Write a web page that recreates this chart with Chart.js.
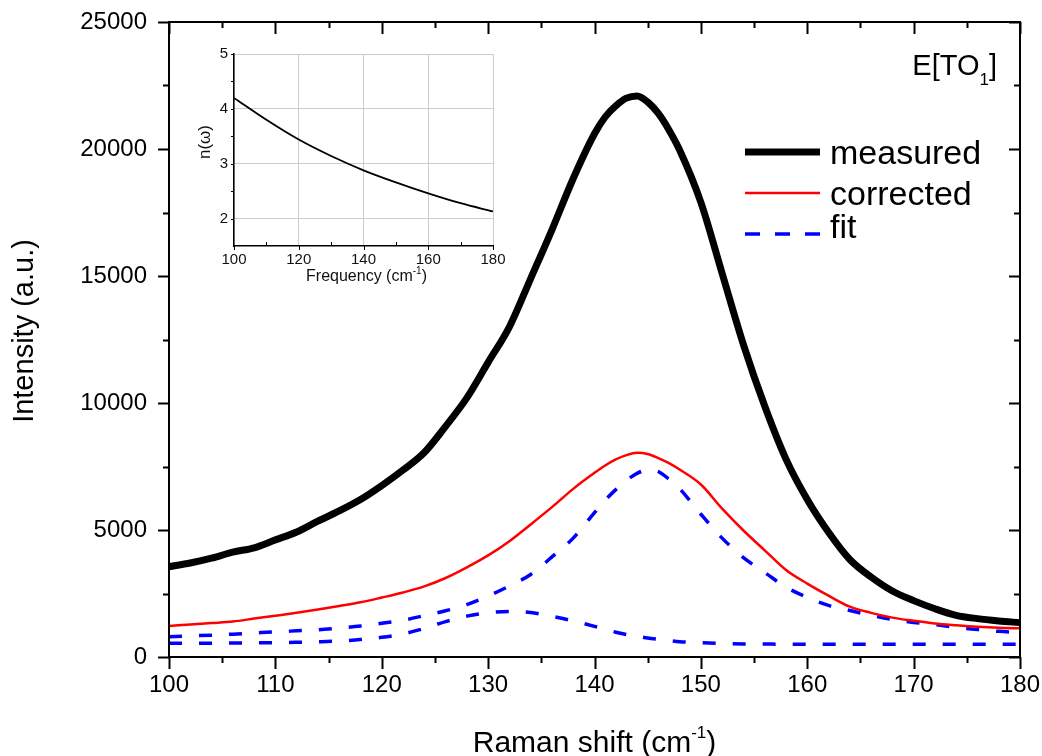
<!DOCTYPE html>
<html>
<head>
<meta charset="utf-8">
<title>E[TO1] Raman spectrum</title>
<script src="https://cdn.jsdelivr.net/npm/chart.js@4.4.0/dist/chart.umd.min.js"></script>
<style>
    body { margin: 0; background: #fff; }
    #wrap { position: relative; width: 1042px; height: 756px; }
    #insetChart { position: absolute; left: 170px; top: 36px; }
</style>
</head>
<body>
<div id="wrap">
    <canvas id="mainChart" width="1042" height="756"></canvas>
    <canvas id="insetChart" width="345" height="252"></canvas>
</div>
<script>
// Raman shift (cm-1) sampling shared by all main series
const ramanShift = [100, 102, 104, 106, 108, 110, 112, 114, 116, 118, 120, 122, 124, 126, 128, 130, 132, 134, 136, 138, 140,
    141, 142, 143, 144, 145, 146, 147, 148,
    150, 152, 154, 156, 158, 160, 162, 164, 166, 168, 170, 172, 174, 176, 178, 180];

const measured = [3555, 3700, 3890, 4130, 4300, 4610, 4920, 5350, 5750, 6200, 6750, 7360, 8050, 9080, 10200, 11600, 13000, 14900, 16820, 18840, 20600,
    21260, 21700, 22000, 22090, 21850, 21400, 20750, 19960,
    17900, 15100, 12300, 9880, 7790, 6200, 4910, 3840, 3150, 2600, 2220, 1900, 1640, 1510, 1420, 1350];

const corrected = [1220, 1278, 1336, 1398, 1512, 1625, 1740, 1870, 2008, 2152, 2340, 2540, 2780, 3110, 3530, 4000, 4560, 5220, 5900, 6620, 7250,
    7540, 7780, 7950, 8040, 7990, 7830, 7630, 7380,
    6790, 5840, 4980, 4200, 3425, 2890, 2415, 1980, 1737, 1550, 1425, 1320, 1250, 1190, 1150, 1130];

const fitTotal = [800, 830, 860, 900, 945, 990, 1030, 1070, 1140, 1220, 1330, 1450, 1630, 1820, 2060, 2400, 2800, 3250, 3940, 4680, 5685,
    6170, 6590, 6945, 7230, 7360, 7300, 7000, 6630,
    5620, 4680, 3910, 3330, 2750, 2350, 2030, 1830, 1640, 1475, 1360, 1280, 1165, 1085, 1010, 957];

const fitLowPeak = [540, 540, 545, 550, 560, 565, 580, 600, 630, 690, 775, 910, 1126, 1393, 1610, 1741, 1790, 1750, 1604, 1421, 1207,
    1091, 975, 888, 818, 748, 697, 650, 603,
    560, 530, 515, 510, 505, 505, 505, 505, 505, 505, 505, 505, 505, 505, 505, 505];

// Axis ticks (main)
const xTicks = [100, 110, 120, 130, 140, 150, 160, 170, 180];
const yTicks = [0, 5000, 10000, 15000, 20000, 25000];
const xMinorStep = 5;
const yMinorStep = 2500;

// Inset: refractive index n(omega)
const insetFreq = [100, 110, 120, 130, 140, 150, 160, 170, 180];
const insetIndex = [4.20, 3.80, 3.44, 3.14, 2.88, 2.66, 2.46, 2.28, 2.13];
const insetXTicks = [100, 120, 140, 160, 180];
const insetYTicks = [2, 3, 4, 5];

const FONT = "'Liberation Sans', Arial, 'DejaVu Sans', sans-serif";

document.addEventListener('DOMContentLoaded', function() {
    Chart.defaults.font.family = FONT;
    Chart.defaults.color = '#000';
    initializeMainChart();
    initializeInsetChart();
});

function toPoints(xs, ys) {
    return xs.map((x, i) => ({ x: x, y: ys[i] }));
}

// Draws "text(cm-1)" style labels with a real superscript, centred on cx
function drawSupLabel(ctx, head, sup, tail, cx, baseline, size, supSize, rise) {
    const big = size + 'px ' + FONT;
    const small = supSize + 'px ' + FONT;
    ctx.font = big;
    const w1 = ctx.measureText(head).width;
    const w3 = ctx.measureText(tail).width;
    ctx.font = small;
    const w2 = ctx.measureText(sup).width;
    let x = cx - (w1 + w2 + w3) / 2;
    ctx.textAlign = 'left';
    ctx.textBaseline = 'alphabetic';
    ctx.font = big;
    ctx.fillText(head, x, baseline);
    x += w1;
    ctx.font = small;
    ctx.fillText(sup, x, baseline - rise);
    x += w2;
    ctx.font = big;
    ctx.fillText(tail, x, baseline);
}

// Frame with inward ticks on top/right and outward ticks on bottom/left
const frameTicks = {
    id: 'frameTicks',
    afterDraw(chart) {
        const { ctx, chartArea: a, scales: { x, y } } = chart;
        ctx.save();
        ctx.strokeStyle = '#000';
        ctx.lineWidth = 2;
        ctx.strokeRect(a.left, a.top, a.right - a.left, a.bottom - a.top);
        ctx.beginPath();
        for (let v = x.min; v <= x.max; v += xMinorStep) {
            const px = Math.round(x.getPixelForValue(v)) + 0.5;
            const major = xTicks.includes(v);
            ctx.moveTo(px, a.bottom);
            ctx.lineTo(px, a.bottom + (major ? 12 : 6));
            ctx.moveTo(px, a.top);
            ctx.lineTo(px, a.top + (major ? 12 : 6));
        }
        for (let v = y.min; v <= y.max; v += yMinorStep) {
            const py = Math.round(y.getPixelForValue(v)) + 0.5;
            const major = yTicks.includes(v);
            ctx.moveTo(a.left, py);
            ctx.lineTo(a.left - (major ? 11 : 6), py);
            ctx.moveTo(a.right, py);
            ctx.lineTo(a.right - (major ? 11 : 6), py);
        }
        ctx.stroke();
        ctx.restore();
    }
};

// Axis titles, legend block and the mode label
const annotations = {
    id: 'annotations',
    afterDraw(chart) {
        const { ctx, chartArea: a } = chart;
        ctx.save();
        ctx.fillStyle = '#000';

        // axis titles
        drawSupLabel(ctx, 'Raman shift (cm', '-1', ')', (a.left + a.right) / 2, 752, 30, 17, 14);
        ctx.save();
        ctx.translate(33, 331);
        ctx.rotate(-Math.PI / 2);
        ctx.font = '29px ' + FONT;
        ctx.textAlign = 'center';
        ctx.textBaseline = 'alphabetic';
        ctx.fillText('Intensity (a.u.)', 0, 0);
        ctx.restore();

        // legend
        const x0 = a.right - 275;
        const rows = [
            { line: 152, base: 164 },
            { line: 193, base: 205 },
            { line: 234, base: 238 }
        ];
        chart.data.datasets.slice(0, 3).forEach((ds, i) => {
            ctx.beginPath();
            ctx.strokeStyle = ds.borderColor;
            ctx.lineWidth = ds.borderWidth;
            ctx.setLineDash(i === 2 ? [15, 15] : []);
            ctx.moveTo(x0, rows[i].line);
            ctx.lineTo(x0 + 75, rows[i].line);
            ctx.stroke();
            ctx.setLineDash([]);
            ctx.font = '34px ' + FONT;
            ctx.textBaseline = 'alphabetic';
            ctx.textAlign = 'left';
            ctx.fillText(ds.label, x0 + 85, rows[i].base);
        });

        // E[TO1] with subscript
        const big = '29px ' + FONT;
        const small = '17px ' + FONT;
        ctx.font = big;
        const w1 = ctx.measureText('E[TO').width;
        const w3 = ctx.measureText(']').width;
        ctx.font = small;
        const w2 = ctx.measureText('1').width;
        let tx = a.right - 23 - (w1 + w2 + w3);
        ctx.font = big;
        ctx.fillText('E[TO', tx, 75);
        tx += w1;
        ctx.font = small;
        ctx.fillText('1', tx, 85);
        tx += w2;
        ctx.font = big;
        ctx.fillText(']', tx, 75);
        ctx.restore();
    }
};

function initializeMainChart() {
    const ctx = document.getElementById('mainChart');
    if (!ctx) return;

    new Chart(ctx, {
        type: 'line',
        data: {
            datasets: [
                {
                    label: 'measured',
                    data: toPoints(ramanShift, measured),
                    borderColor: '#000000',
                    borderWidth: 7
                },
                {
                    label: 'corrected',
                    data: toPoints(ramanShift, corrected),
                    borderColor: '#ff0000',
                    borderWidth: 2.5
                },
                {
                    label: 'fit',
                    data: toPoints(ramanShift, fitTotal),
                    borderColor: '#0000ff',
                    borderWidth: 3.5,
                    borderDash: [13, 17]
                },
                {
                    label: 'fit component',
                    data: toPoints(ramanShift, fitLowPeak),
                    borderColor: '#0000ff',
                    borderWidth: 3.5,
                    borderDash: [13, 17]
                }
            ]
        },
        options: {
            responsive: false,
            animation: false,
            devicePixelRatio: 1,
            layout: { padding: { top: 22, right: 22, left: 0, bottom: 0 } },
            elements: {
                point: { radius: 0 },
                line: { cubicInterpolationMode: 'monotone', fill: false }
            },
            plugins: {
                legend: { display: false },
                tooltip: { enabled: false }
            },
            scales: {
                x: {
                    type: 'linear',
                    min: 100,
                    max: 180,
                    afterBuildTicks: scale => { scale.ticks = xTicks.map(v => ({ value: v })); },
                    afterFit: scale => {
                        scale.height = 99;
                        scale.paddingLeft = 0;
                        scale.paddingRight = 0;
                    },
                    grid: { display: false, drawTicks: false },
                    border: { display: false },
                    ticks: {
                        padding: 14,
                        maxRotation: 0,
                        autoSkip: false,
                        color: '#000',
                        font: { size: 24 },
                        callback: value => String(value)
                    }
                },
                y: {
                    type: 'linear',
                    min: 0,
                    max: 25000,
                    afterBuildTicks: scale => { scale.ticks = yTicks.map(v => ({ value: v })); },
                    afterFit: scale => {
                        scale.width = 169;
                        scale.paddingTop = 0;
                        scale.paddingBottom = 0;
                    },
                    grid: { display: false, drawTicks: false },
                    border: { display: false },
                    ticks: {
                        padding: 22,
                        color: '#000',
                        font: { size: 24 },
                        callback: value => String(value)
                    }
                }
            }
        },
        plugins: [frameTicks, annotations]
    });
}

// Small ticks and titles for the inset axes
const insetDecor = {
    id: 'insetDecor',
    afterDraw(chart) {
        const { ctx, chartArea: a, scales: { x, y } } = chart;
        ctx.save();
        ctx.strokeStyle = '#000';
        ctx.lineWidth = 1;
        ctx.beginPath();
        for (let v = 100; v <= 180; v += 10) {
            const px = Math.round(x.getPixelForValue(v)) + 0.5;
            if (insetXTicks.includes(v)) {
                ctx.moveTo(px, a.bottom);
                ctx.lineTo(px, a.bottom + 4);
            } else {
                ctx.moveTo(px, a.bottom);
                ctx.lineTo(px, a.bottom - 4);
            }
        }
        for (let v = 2; v <= 5; v += 0.5) {
            const py = Math.round(y.getPixelForValue(v)) + 0.5;
            ctx.moveTo(a.left, py);
            ctx.lineTo(a.left - 3, py);
        }
        ctx.stroke();

        ctx.fillStyle = '#111';
        drawSupLabel(ctx, 'Frequency (cm', '-1', ')', (a.left + a.right) / 2 + 3, 245, 16, 10, 7);
        ctx.translate(40, 106);
        ctx.rotate(-Math.PI / 2);
        ctx.font = '17px ' + FONT;
        ctx.textAlign = 'center';
        ctx.textBaseline = 'alphabetic';
        ctx.fillText('n(\u03C9)', 0, 0);
        ctx.restore();
    }
};

function initializeInsetChart() {
    const ctx = document.getElementById('insetChart');
    if (!ctx) return;

    new Chart(ctx, {
        type: 'line',
        data: {
            datasets: [{
                label: 'n',
                data: toPoints(insetFreq, insetIndex),
                borderColor: '#000',
                borderWidth: 1.8
            }]
        },
        options: {
            responsive: false,
            animation: false,
            devicePixelRatio: 1,
            layout: { padding: { top: 18, right: 22, left: 0, bottom: 0 } },
            elements: {
                point: { radius: 0 },
                line: { cubicInterpolationMode: 'monotone', fill: false }
            },
            plugins: {
                legend: { display: false },
                tooltip: { enabled: false }
            },
            scales: {
                x: {
                    type: 'linear',
                    min: 100,
                    max: 180,
                    afterBuildTicks: scale => { scale.ticks = insetXTicks.map(v => ({ value: v })); },
                    afterFit: scale => {
                        scale.height = 42;
                        scale.paddingLeft = 0;
                        scale.paddingRight = 0;
                    },
                    grid: { color: '#cccccc', lineWidth: 1, drawTicks: false },
                    border: { display: true, color: '#000', width: 1.5 },
                    ticks: {
                        padding: 5,
                        maxRotation: 0,
                        autoSkip: false,
                        color: '#111',
                        font: { size: 15 }
                    }
                },
                y: {
                    type: 'linear',
                    min: 1.5,
                    max: 5,
                    afterBuildTicks: scale => { scale.ticks = insetYTicks.map(v => ({ value: v })); },
                    afterFit: scale => {
                        scale.width = 64;
                        scale.paddingTop = 0;
                        scale.paddingBottom = 0;
                    },
                    grid: { color: '#cccccc', lineWidth: 1, drawTicks: false },
                    border: { display: true, color: '#000', width: 1.5 },
                    ticks: {
                        padding: 6,
                        color: '#111',
                        font: { size: 15 }
                    }
                }
            }
        },
        plugins: [insetDecor]
    });
}
</script>
</body>
</html>
